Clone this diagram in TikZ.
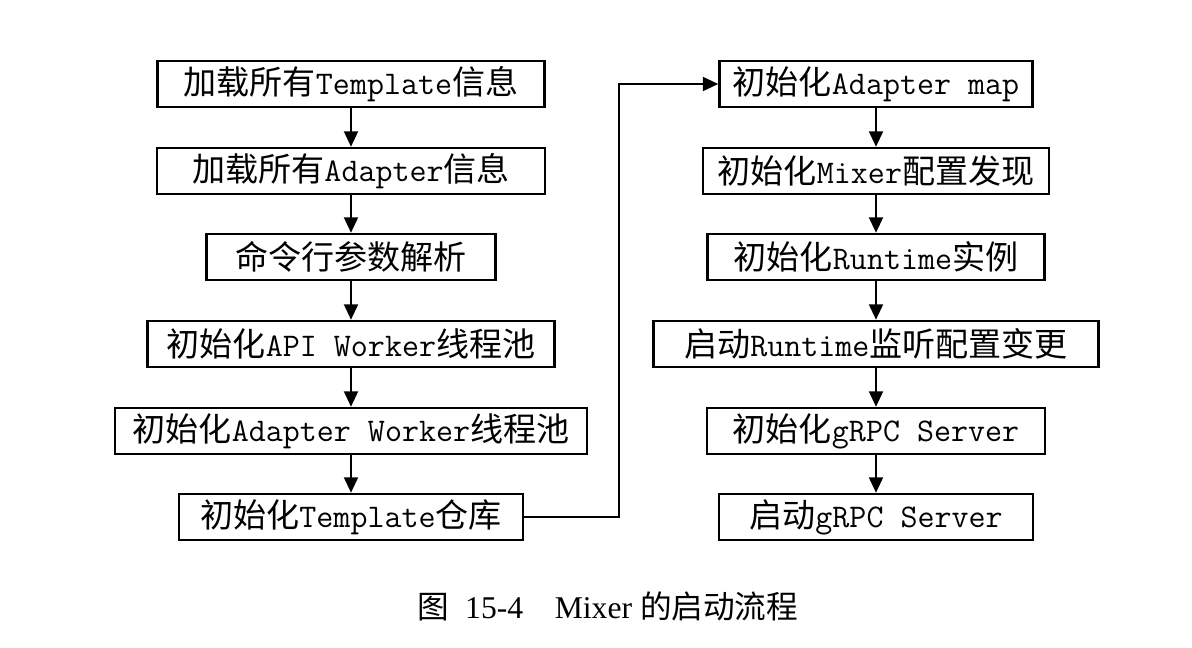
\documentclass[tikz,border=0pt]{standalone}
\usepackage{fontspec}
\newfontfamily\cjk{Noto Sans CJK SC}
\newfontfamily\capfont{Liberation Serif}
\newcommand{\zh}[1]{{\cjk #1}}
\usetikzlibrary{arrows.meta}
\tikzset{
	stepbox/.style={draw, line width=1.8pt, inner sep=0pt, minimum height=1.15cm,
		minimum width=#1*0.025cm, font=\ttfamily\fontsize{23.5}{27}\selectfont},
	flow/.style={line width=1.4pt, -{Triangle[width=10pt,length=11pt]}}
}
\begin{document}
\begin{tikzpicture}[x=0.025cm, y=-0.025cm]
	\useasboundingbox (0,0) rectangle (1192,648);
	
	% left column
	\node[stepbox=387] (tpl) at (351,84) {\zh{加载所有}Template\zh{信息}};
	\node[stepbox=388] (adp) at (351,171) {\zh{加载所有}Adapter\zh{信息}};
	\node[stepbox=289] (cmd) at (351,257) {\zh{命令行参数解析}};
	\node[stepbox=407] (apiw) at (351,344) {\zh{初始化}API Worker\zh{线程池}};
	\node[stepbox=472] (adpw) at (351,431) {\zh{初始化}Adapter Worker\zh{线程池}};
	\node[stepbox=344] (tplrepo) at (351,517) {\zh{初始化}Template\zh{仓库}};
	
	% right column
	\node[stepbox=313] (amap) at (876,84) {\zh{初始化}Adapter map};
	\node[stepbox=346] (mcfg) at (876,171) {\zh{初始化}Mixer\zh{配置发现}};
	\node[stepbox=337] (rt) at (876,257) {\zh{初始化}Runtime\zh{实例}};
	\node[stepbox=445] (rtwatch) at (876,344) {\zh{启动}Runtime\zh{监听配置变更}};
	\node[stepbox=338] (grpcinit) at (876,431) {\zh{初始化}gRPC Server};
	\node[stepbox=314] (grpcstart) at (876,517) {\zh{启动}gRPC Server};
	
	\foreach \a/\b in {tpl/adp, adp/cmd, cmd/apiw, apiw/adpw, adpw/tplrepo,
		amap/mcfg, mcfg/rt, rt/rtwatch, rtwatch/grpcinit, grpcinit/grpcstart}
	\draw[flow] (\a) -- (\b);
	
	\coordinate (turn) at (619,517);
	\draw[flow] (tplrepo.east) -- (turn) |- (amap.west);
	
	\node (cap) at (608,606) {\capfont\fontsize{22.5}{26}\selectfont\zh{图}\ \ 15-4\quad Mixer \zh{的启动流程}};
\end{tikzpicture}
\end{document}
